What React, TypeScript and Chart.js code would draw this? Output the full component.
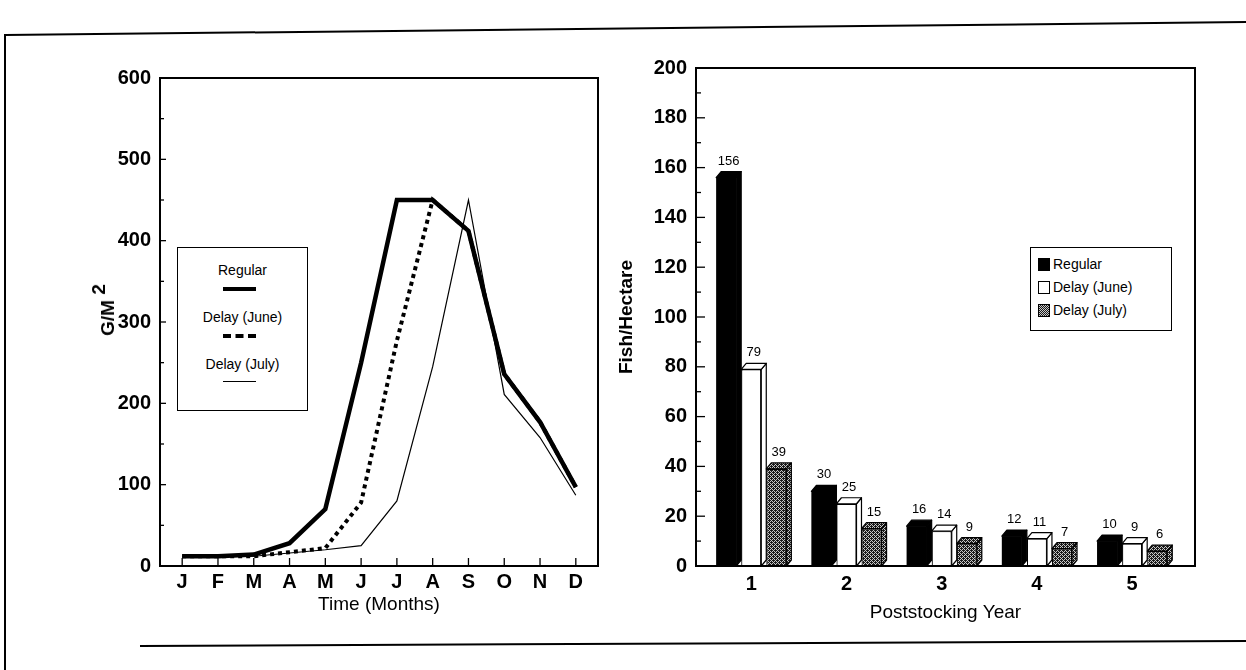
import React, { useEffect, useRef } from 'react';
import { Chart, registerables } from 'chart.js';
Chart.register(...registerables);

// ---------- data ----------
const months = ['J', 'F', 'M', 'A', 'M', 'J', 'J', 'A', 'S', 'O', 'N', 'D'];
const regular = [12, 12, 14, 28, 70, 250, 450, 450, 412, 236, 177, 97];
const delayJune = [12, 12, 12, 17, 22, 78, 277, 450, 412, 236, 177, 97];
const delayJuly = [12, 12, 12, 16, 20, 25, 80, 245, 450, 211, 158, 87];
const lineYTicks = [0, 100, 200, 300, 400, 500, 600];

const years = [1, 2, 3, 4, 5];
const fishRegular = [156, 30, 16, 12, 10];
const fishJune = [79, 25, 14, 11, 9];
const fishJuly = [39, 15, 9, 7, 6];
const barYTicks = [0, 20, 40, 60, 80, 100, 120, 140, 160, 180, 200];

const seriesNames = ['Regular', 'Delay (June)', 'Delay (July)'];

const FONT = "'Liberation Sans', Arial, Helvetica, sans-serif";
const DX = 5;
const DY = 6;

function makePattern(): CanvasPattern | string {
  const c = document.createElement('canvas');
  c.width = 4;
  c.height = 4;
  const g = c.getContext('2d');
  if (!g) return '#777';
  g.fillStyle = '#c8c8c8';
  g.fillRect(0, 0, 4, 4);
  g.fillStyle = '#1a1a1a';
  const dots = [[0, 0], [1, 0], [2, 0], [1, 1], [3, 1], [0, 2], [2, 2], [3, 2], [1, 3], [3, 3]];
  dots.forEach(([a, b]) => g.fillRect(a, b, 1, 1));
  const p = g.createPattern(c, 'repeat');
  return p || '#777';
}

const boxAndTicks = (opts: { yMinorLen: number; yMajorLen: number; xLen: number; majorEvery: number }) => ({
  id: 'boxAndTicks',
  afterDraw(chart: any) {
    const { ctx, chartArea: a, scales } = chart;
    ctx.save();
    ctx.strokeStyle = '#000';
    ctx.lineWidth = 2;
    ctx.strokeRect(a.left, a.top, a.right - a.left, a.bottom - a.top);
    ctx.lineWidth = 1.3;
    const y = scales.y;
    y.ticks.forEach((t: any) => {
      const py = y.getPixelForValue(t.value);
      const len = t.value % opts.majorEvery === 0 ? opts.yMajorLen : opts.yMinorLen;
      ctx.beginPath();
      ctx.moveTo(a.left, py);
      ctx.lineTo(a.left + len, py);
      ctx.stroke();
    });
    if (opts.xLen > 0) {
      const x = scales.x;
      x.ticks.forEach((t: any) => {
        const px = x.getPixelForValue(t.value);
        ctx.beginPath();
        ctx.moveTo(px, a.bottom);
        ctx.lineTo(px, a.bottom - opts.xLen);
        ctx.stroke();
      });
    }
    ctx.restore();
  },
});

function LineChart() {
  const ref = useRef<HTMLCanvasElement>(null);
  useEffect(() => {
    if (!ref.current) return;
    const mk = (vals: number[]) => vals.map((v, i) => ({ x: i, y: v }));
    const chart = new Chart(ref.current, {
      type: 'line',
      data: {
        datasets: [
          { label: seriesNames[2], data: mk(delayJuly), borderColor: '#000', borderWidth: 1.2, pointRadius: 0, tension: 0 },
          { label: seriesNames[1], data: mk(delayJune), borderColor: '#000', borderWidth: 4, borderDash: [4, 4], pointRadius: 0, tension: 0 },
          { label: seriesNames[0], data: mk(regular), borderColor: '#000', borderWidth: 4.5, pointRadius: 0, tension: 0, borderJoinStyle: 'miter' },
        ],
      },
      options: {
        animation: false,
        responsive: false,
        layout: { padding: { top: 28, right: 22, left: 0, bottom: 0 } },
        plugins: { legend: { display: false }, tooltip: { enabled: false } },
        scales: {
          x: {
            type: 'linear',
            min: -0.62,
            max: 11.62,
            afterBuildTicks: (s: any) => { s.ticks = months.map((_, i) => ({ value: i })); },
            afterFit: (s: any) => { s.height = 74; },
            grid: { display: false, drawTicks: false },
            border: { display: false },
            ticks: {
              autoSkip: false,
              maxRotation: 0,
              padding: 4,
              color: '#000',
              font: { family: FONT, size: 20, weight: 'bold' },
              callback: (v: any) => months[v] ?? '',
            },
            title: {
              display: true,
              text: 'Time (Months)',
              color: '#000',
              font: { family: FONT, size: 19 },
              padding: { top: 0, bottom: 24 },
            },
          },
          y: {
            min: 0,
            max: 600,
            afterBuildTicks: (s: any) => {
              const t: any[] = [];
              for (let v = 0; v <= 600; v += 50) t.push({ value: v });
              s.ticks = t;
            },
            afterFit: (s: any) => { s.width = 100; },
            grid: { display: false, drawTicks: false },
            border: { display: false },
            ticks: {
              autoSkip: false,
              padding: 9,
              color: '#000',
              font: { family: FONT, size: 20, weight: 'bold' },
              callback: (v: any) => (lineYTicks.includes(v) ? String(v) : ''),
            },
          },
        },
      },
      plugins: [boxAndTicks({ yMinorLen: 4, yMajorLen: 6, xLen: 8, majorEvery: 100 })],
    } as any);
    return () => chart.destroy();
  }, []);
  return <canvas ref={ref} width={560} height={590} style={{ position: 'absolute', left: 60, top: 50, width: 560, height: 590 }} />;
}

function BarChart() {
  const ref = useRef<HTMLCanvasElement>(null);
  useEffect(() => {
    if (!ref.current) return;
    const pattern = makePattern();
    const mk = (vals: number[]) => vals.map((v, i) => ({ x: years[i], y: v }));
    const allVals = [fishRegular, fishJune, fishJuly];
    const faceFill = ['#000', '#fff', pattern];
    const faces = {
      id: 'faces3d',
      beforeDatasetsDraw(chart: any) {
        const { ctx } = chart;
        ctx.save();
        ctx.strokeStyle = '#000';
        ctx.lineWidth = 1.2;
        ctx.lineJoin = 'round';
        for (let d = 0; d < 3; d++) {
          const meta = chart.getDatasetMeta(d);
          meta.data.forEach((el: any) => {
            const { x, y, base, width } = el.getProps(['x', 'y', 'base', 'width'], true);
            const l = x - width / 2;
            const r = x + width / 2;
            ctx.fillStyle = faceFill[d];
            // side face
            ctx.beginPath();
            ctx.moveTo(r, y);
            ctx.lineTo(r + DX, y - DY);
            ctx.lineTo(r + DX, base - DY);
            ctx.lineTo(r, base);
            ctx.closePath();
            ctx.fill();
            ctx.stroke();
            // top face
            ctx.beginPath();
            ctx.moveTo(l, y);
            ctx.lineTo(l + DX, y - DY);
            ctx.lineTo(r + DX, y - DY);
            ctx.lineTo(r, y);
            ctx.closePath();
            ctx.fill();
            ctx.stroke();
          });
        }
        ctx.restore();
      },
      afterDatasetsDraw(chart: any) {
        const { ctx } = chart;
        ctx.save();
        ctx.fillStyle = '#000';
        ctx.font = `13px ${FONT}`;
        ctx.textAlign = 'center';
        ctx.textBaseline = 'bottom';
        for (let d = 0; d < 3; d++) {
          const meta = chart.getDatasetMeta(d);
          meta.data.forEach((el: any, j: number) => {
            const { x, y } = el.getProps(['x', 'y'], true);
            ctx.fillText(String(allVals[d][j]), x + DX / 2, y - DY - 4);
          });
        }
        ctx.restore();
      },
    };
    const common = { categoryPercentage: 0.79, barPercentage: 0.8, borderColor: '#000' };
    const chart = new Chart(ref.current, {
      type: 'bar',
      data: {
        datasets: [
          { label: seriesNames[0], data: mk(fishRegular), backgroundColor: '#000', borderWidth: 0, ...common },
          { label: seriesNames[1], data: mk(fishJune), backgroundColor: '#fff', borderWidth: 1.2, ...common },
          { label: seriesNames[2], data: mk(fishJuly), backgroundColor: pattern, borderWidth: 1.2, ...common },
        ],
      },
      options: {
        animation: false,
        responsive: false,
        layout: { padding: { top: 28, right: 45, left: 0, bottom: 0 } },
        plugins: { legend: { display: false }, tooltip: { enabled: false } },
        scales: {
          x: {
            type: 'linear',
            min: 0.42,
            max: 5.66,
            offset: false,
            afterBuildTicks: (s: any) => { s.ticks = years.map((v) => ({ value: v })); },
            afterFit: (s: any) => { s.height = 74; },
            grid: { display: false, drawTicks: false },
            border: { display: false },
            ticks: {
              autoSkip: false,
              maxRotation: 0,
              padding: 6,
              color: '#000',
              font: { family: FONT, size: 20, weight: 'bold' },
              callback: (v: any) => String(v),
            },
            title: {
              display: true,
              text: 'Poststocking Year',
              color: '#000',
              font: { family: FONT, size: 19 },
              padding: { top: 0, bottom: 16 },
            },
          },
          y: {
            min: 0,
            max: 200,
            afterBuildTicks: (s: any) => {
              const t: any[] = [];
              for (let v = 0; v <= 200; v += 10) t.push({ value: v });
              s.ticks = t;
            },
            afterFit: (s: any) => { s.width = 96; },
            grid: { display: false, drawTicks: false },
            border: { display: false },
            ticks: {
              autoSkip: false,
              padding: 9,
              color: '#000',
              font: { family: FONT, size: 20, weight: 'bold' },
              callback: (v: any) => (barYTicks.includes(v) ? String(v) : ''),
            },
            title: {
              display: true,
              text: 'Fish/Hectare',
              color: '#000',
              font: { family: FONT, size: 19, weight: 'bold' },
              padding: { top: 15, bottom: 0 },
            },
          },
        },
      },
      plugins: [faces, boxAndTicks({ yMinorLen: 5, yMajorLen: 9, xLen: 0, majorEvery: 20 })],
    } as any);
    return () => chart.destroy();
  }, []);
  return <canvas ref={ref} width={640} height={600} style={{ position: 'absolute', left: 600, top: 40, width: 640, height: 600 }} />;
}

function LineLegend() {
  const lineStyles = [
    { borderTop: '4px solid #000' },
    { borderTop: '4px dashed #000' },
    { borderTop: '1px solid #000' },
  ];
  return (
    <div style={{ position: 'absolute', left: 177, top: 247, width: 131, height: 164, border: '1.5px solid #000', boxSizing: 'border-box', background: '#fff', fontFamily: FONT, fontSize: 14, color: '#000' }}>
      {seriesNames.map((n, i) => (
        <React.Fragment key={n}>
          <div style={{ position: 'absolute', left: 0, width: '100%', top: 14 + i * 47, textAlign: 'center', lineHeight: '16px' }}>{n}</div>
          <div style={{ position: 'absolute', left: 45, width: 33, top: 39 + i * 47, height: 0, ...lineStyles[i] }} />
        </React.Fragment>
      ))}
    </div>
  );
}

function BarLegend() {
  const sw = [
    { background: '#000' },
    { background: '#fff', border: '1px solid #000', boxSizing: 'border-box' as const },
    { background: 'repeating-conic-gradient(#1a1a1a 0% 25%, #c8c8c8 0% 50%) 0 0 / 2px 2px', border: '1px solid #000', boxSizing: 'border-box' as const },
  ];
  return (
    <div style={{ position: 'absolute', left: 1030, top: 247, width: 142, height: 84, border: '1.5px solid #000', boxSizing: 'border-box', background: '#fff', fontFamily: FONT, fontSize: 14, color: '#000' }}>
      {seriesNames.map((n, i) => (
        <React.Fragment key={n}>
          <div style={{ position: 'absolute', left: 7, top: 10 + i * 23, width: 12, height: 13, ...sw[i] }} />
          <div style={{ position: 'absolute', left: 22, top: 8 + i * 23, lineHeight: '17px', whiteSpace: 'nowrap' }}>{n}</div>
        </React.Fragment>
      ))}
    </div>
  );
}

export default function App() {
  return (
    <div style={{ position: 'fixed', left: 0, top: 0, width: 1246, height: 670, background: '#fff', overflow: 'hidden' }}>
      <svg width={1246} height={670} style={{ position: 'absolute', left: 0, top: 0 }}>
        <line x1={5} y1={35} x2={1246} y2={22} stroke="#000" strokeWidth={2} />
        <line x1={5} y1={34} x2={5} y2={670} stroke="#000" strokeWidth={2} />
        <line x1={140} y1={646} x2={1246} y2={641} stroke="#000" strokeWidth={2} />
      </svg>
      <LineChart />
      <BarChart />
      <div style={{ position: 'absolute', left: 108, top: 310, transform: 'translate(-50%, -50%) rotate(-90deg)', fontFamily: FONT, fontWeight: 'bold', fontSize: 19, whiteSpace: 'nowrap', color: '#000' }}>
        G/M <sup style={{ fontSize: 19, verticalAlign: '0.45em', lineHeight: 0 }}>2</sup>
      </div>
      <LineLegend />
      <BarLegend />
    </div>
  );
}
